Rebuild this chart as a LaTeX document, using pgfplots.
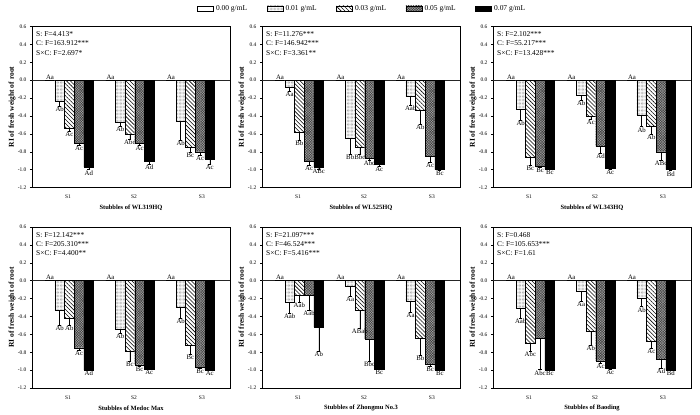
\documentclass[border=0pt]{standalone}
\usepackage{fontspec}
\setmainfont{Liberation Serif}
\usepackage{pgfplots}
\usepackage{pgfplotstable}
\pgfplotsset{compat=1.18}
\usetikzlibrary{patterns.meta}

% g = stubble group (S1,S2,S3); cK = RI value, eK = SE, lK = letters
\pgfplotstableread{
g c0 l0 c1 e1 l1 c2 e2 l2 c3 e3 l3 c4 e4 l4
1 0 Aa -0.24 0.05 Ab -0.54 0.03 Ac -0.70 0.03 Ac -0.97 0.03 Ad
2 0 Aa -0.47 0.04 Ab -0.60 0.055 Abc -0.70 0.03 Ac -0.91 0.03 Ad
3 0 Aa -0.46 0.21 Ab -0.75 0.055 Bc -0.80 0.04 Ac -0.88 0.06 Ac
}\tabA
\pgfplotstableread{
g c0 l0 c1 e1 l1 c2 e2 l2 c3 e3 l3 c4 e4 l4
1 0 Aa -0.075 0.045 Aa -0.58 0.09 Bb -0.91 0.04 Ac -0.97 0.02 ABc
2 0 Aa -0.65 0.175 Bb -0.75 0.075 Bbc -0.87 0.02 Abc -0.94 0.02 Ac
3 0 Aa -0.18 0.10 Aab -0.34 0.15 Ab -0.85 0.065 Ac -1.00 0.01 Bc
}\tabB
\pgfplotstableread{
g c0 l0 c1 e1 l1 c2 e2 l2 c3 e3 l3 c4 e4 l4
1 0 Aa -0.33 0.12 Ab -0.86 0.09 Bc -0.96 0.015 Bc -1.00 0.0 Bc
2 0 Aa -0.17 0.055 Ab -0.40 0.04 Ac -0.74 0.075 Ad -0.98 0.02 Ac
3 0 Aa -0.39 0.13 Ab -0.51 0.09 Ab -0.80 0.09 ABc -1.00 0.01 Bd
}\tabC
\pgfplotstableread{
g c0 l0 c1 e1 l1 c2 e2 l2 c3 e3 l3 c4 e4 l4
1 0 Aa -0.335 0.16 Ab -0.42 0.075 Ab -0.75 0.025 Ac -1.00 0.0 Ad
2 0 Aa -0.54 0.045 Ab -0.79 0.11 Bc -0.94 0.02 Bc -0.985 0.01 Ac
3 0 Aa -0.30 0.12 Ab -0.72 0.10 Bc -0.965 0.01 Bc -1.00 0.0 Ac
}\tabD
\pgfplotstableread{
g c0 l0 c1 e1 l1 c2 e2 l2 c3 e3 l3 c4 e4 l4
1 0 Aa -0.24 0.12 Aab -0.16 0.08 Aab -0.16 0.17 Aab -0.52 0.27 Ab
2 0 Aa -0.067 0.11 Aa -0.33 0.20 ABab -0.65 0.25 Bbc -0.985 0.01 Bc
3 0 Aa -0.23 0.12 Aa -0.64 0.19 Bb -0.93 0.025 Bc -1.00 0.0 Bc
}\tabE
\pgfplotstableread{
g c0 l0 c1 e1 l1 c2 e2 l2 c3 e3 l3 c4 e4 l4
1 0 Aa -0.31 0.11 Aab -0.70 0.09 Abc -0.645 0.35 Abc -1.00 0.0 Bc
2 0 Aa -0.115 0.12 Aa -0.56 0.16 Ab -0.895 0.025 Ac -0.975 0.02 Ac
3 0 Aa -0.20 0.09 Ab -0.68 0.075 Ac -0.875 0.10 Ad -1.00 0.0 Bd
}\tabF

\tikzset{
  s0/.style={fill=white, draw=black, line width=0.4pt},
  s1/.style={fill=white, draw=black, line width=0.4pt, postaction={pattern={Dots[distance=1.4bp, radius=0.32bp]}, pattern color=black!60}},
  s2/.style={fill=white, draw=black, line width=0.4pt, postaction={pattern={Lines[angle=-45, distance=2.8bp, line width=0.55bp]}, pattern color=black}},
  s3/.style={fill=black!35, draw=black, line width=0.4pt, postaction={pattern={Hatch[angle=45, distance=1.8bp, line width=0.45bp]}, pattern color=black!75}},
  s4/.style={fill=black, draw=black, line width=0.4pt},
  stats/.style={anchor=north west, align=left, inner sep=0pt, font=\fontsize{7.5}{9.3}\selectfont},
}

\pgfplotsset{
  mylegend/.style={legend image code/.code={\draw[##1] (0bp,-2.6bp) rectangle (16bp,2.6bp);}},
  lab/.style={nodes near coords, point meta=explicit symbolic, nodes near coords align=vertical,
    every node near coord/.append style={font=\fontsize{6.8}{7}\selectfont, inner sep=0.6bp, black}},
  errb/.style={/pgfplots/error bars/y dir=minus, /pgfplots/error bars/y explicit,
    /pgfplots/error bars/error bar style={line width=0.4pt, black},
    /pgfplots/error bars/error mark options={rotate=90, mark size=1.6bp, line width=0.4pt, black}},
  pb/.style={ybar, bar width=9.7bp, bar shift=0bp},
  p0/.style={pb, s0, mylegend, lab},
  p1/.style={pb, s1, mylegend, errb},
  p2/.style={pb, s2, mylegend, errb},
  p3/.style={pb, s3, mylegend, errb},
  p4/.style={pb, s4, mylegend, errb},
  q/.style={draw=none, mark=none, forget plot, nodes near coords, point meta=explicit symbolic,
    every node near coord/.append style={anchor=north, font=\fontsize{6.8}{7}\selectfont, inner sep=0.6bp, text=black}},
  panel/.style={
    width=198bp, height=161bp, scale only axis, anchor=north west,
    xmin=0.382, xmax=3.655, ymin=-1.2, ymax=0.6,
    ytick={-1.2,-1,-0.8,-0.6,-0.4,-0.2,0,0.2,0.4,0.6},
    yticklabel style={/pgf/number format/fixed, /pgf/number format/fixed zerofill, /pgf/number format/precision=1, /pgf/number format/assume math mode=true},
    xtick={0.977,2.068,3.19}, xticklabels={S1,S2,S3},
    x tick style={draw=none},
    ytick pos=left, tick align=outside, major tick length=2bp,
    tick label style={font=\fontsize{5.5}{6}\selectfont},
    xticklabel style={yshift=-2bp},
    axis line style={line width=0.5pt},
    every tick/.style={black, line width=0.4pt},
    xlabel style={font=\fontsize{6.5}{7}\selectfont\bfseries, at={(axis description cs:0.5,0)}, anchor=center, yshift=-20bp},
    ylabel={RI of fresh weight of root},
    ylabel style={font=\fontsize{7.5}{8}\selectfont\bfseries, at={(axis description cs:-0.101,0.5)}, anchor=center},
    clip=false,
  },
}

\begin{document}
\begin{tikzpicture}
\path (0,0) rectangle (700bp,-414bp);
% ---------- panel 1 ----------
\begin{axis}[panel, at={(32bp,-26.5bp)}, xlabel={Stubbles of WL319HQ},
  legend entries={0.00 g/mL,0.01 g/mL,0.03 g/mL,0.05 g/mL,0.07 g/mL},
  legend columns=5,
  legend style={draw=none, fill=none, inner sep=0pt, at={(0.833,1.112)}, anchor=west,
    font=\fontsize{7.5}{9}\selectfont,
    nodes={inner xsep=2.5bp, inner ysep=0pt},
    /tikz/every even column/.append style={column sep=17bp}}]
\draw[black!85, line width=0.5pt] (axis cs:0.382,0) -- (axis cs:3.655,0);
\addplot[p0] table[x expr=\thisrow{g}-0.3207, y=c0, meta=l0]{\tabA};
\addplot[p1] table[x expr=\thisrow{g}-0.1603, y=c1, y error=e1]{\tabA};
\addplot[p2] table[x expr=\thisrow{g}, y=c2, y error=e2]{\tabA};
\addplot[p3] table[x expr=\thisrow{g}+0.1603, y=c3, y error=e3]{\tabA};
\addplot[p4] table[x expr=\thisrow{g}+0.3207, y=c4, y error=e4]{\tabA};
\addplot[q] table[x expr=\thisrow{g}-0.1603, y expr=\thisrow{c1}-\thisrow{e1}, meta=l1]{\tabA};
\addplot[q] table[x expr=\thisrow{g}, y expr=\thisrow{c2}-\thisrow{e2}, meta=l2]{\tabA};
\addplot[q] table[x expr=\thisrow{g}+0.1603, y expr=\thisrow{c3}-\thisrow{e3}, meta=l3]{\tabA};
\addplot[q] table[x expr=\thisrow{g}+0.3207, y expr=\thisrow{c4}-\thisrow{e4}, meta=l4]{\tabA};
\node[stats] at (rel axis cs:0.02,0.969) {S: F=4.413*\\C: F=163.912***\\S×C: F=2.697*};
\end{axis}
% ---------- panel 2 ----------
\begin{axis}[panel, at={(262bp,-26.5bp)}, xlabel={Stubbles of WL525HQ}]
\draw[black!85, line width=0.5pt] (axis cs:0.382,0) -- (axis cs:3.655,0);
\addplot[p0] table[x expr=\thisrow{g}-0.3207, y=c0, meta=l0]{\tabB};
\addplot[p1] table[x expr=\thisrow{g}-0.1603, y=c1, y error=e1]{\tabB};
\addplot[p2] table[x expr=\thisrow{g}, y=c2, y error=e2]{\tabB};
\addplot[p3] table[x expr=\thisrow{g}+0.1603, y=c3, y error=e3]{\tabB};
\addplot[p4] table[x expr=\thisrow{g}+0.3207, y=c4, y error=e4]{\tabB};
\addplot[q] table[x expr=\thisrow{g}-0.1603, y expr=\thisrow{c1}-\thisrow{e1}, meta=l1]{\tabB};
\addplot[q] table[x expr=\thisrow{g}, y expr=\thisrow{c2}-\thisrow{e2}, meta=l2]{\tabB};
\addplot[q] table[x expr=\thisrow{g}+0.1603, y expr=\thisrow{c3}-\thisrow{e3}, meta=l3]{\tabB};
\addplot[q] table[x expr=\thisrow{g}+0.3207, y expr=\thisrow{c4}-\thisrow{e4}, meta=l4]{\tabB};
\node[stats] at (rel axis cs:0.02,0.969) {S: F=11.276***\\C: F=146.942***\\S×C: F=3.361**};
\end{axis}
% ---------- panel 3 ----------
\begin{axis}[panel, at={(493bp,-26.5bp)}, xlabel={Stubbles of WL343HQ}]
\draw[black!85, line width=0.5pt] (axis cs:0.382,0) -- (axis cs:3.655,0);
\addplot[p0] table[x expr=\thisrow{g}-0.3207, y=c0, meta=l0]{\tabC};
\addplot[p1] table[x expr=\thisrow{g}-0.1603, y=c1, y error=e1]{\tabC};
\addplot[p2] table[x expr=\thisrow{g}, y=c2, y error=e2]{\tabC};
\addplot[p3] table[x expr=\thisrow{g}+0.1603, y=c3, y error=e3]{\tabC};
\addplot[p4] table[x expr=\thisrow{g}+0.3207, y=c4, y error=e4]{\tabC};
\addplot[q] table[x expr=\thisrow{g}-0.1603, y expr=\thisrow{c1}-\thisrow{e1}, meta=l1]{\tabC};
\addplot[q] table[x expr=\thisrow{g}, y expr=\thisrow{c2}-\thisrow{e2}, meta=l2]{\tabC};
\addplot[q] table[x expr=\thisrow{g}+0.1603, y expr=\thisrow{c3}-\thisrow{e3}, meta=l3]{\tabC};
\addplot[q] table[x expr=\thisrow{g}+0.3207, y expr=\thisrow{c4}-\thisrow{e4}, meta=l4]{\tabC};
\node[stats] at (rel axis cs:0.02,0.969) {S: F=2.102***\\C: F=55.217***\\S×C: F=13.428***};
\end{axis}
% ---------- panel 4 ----------
\begin{axis}[panel, at={(32bp,-227bp)}, xlabel={Stubbles of Medoc Max}]
\draw[black!85, line width=0.5pt] (axis cs:0.382,0) -- (axis cs:3.655,0);
\addplot[p0] table[x expr=\thisrow{g}-0.3207, y=c0, meta=l0]{\tabD};
\addplot[p1] table[x expr=\thisrow{g}-0.1603, y=c1, y error=e1]{\tabD};
\addplot[p2] table[x expr=\thisrow{g}, y=c2, y error=e2]{\tabD};
\addplot[p3] table[x expr=\thisrow{g}+0.1603, y=c3, y error=e3]{\tabD};
\addplot[p4] table[x expr=\thisrow{g}+0.3207, y=c4, y error=e4]{\tabD};
\addplot[q] table[x expr=\thisrow{g}-0.1603, y expr=\thisrow{c1}-\thisrow{e1}, meta=l1]{\tabD};
\addplot[q] table[x expr=\thisrow{g}, y expr=\thisrow{c2}-\thisrow{e2}, meta=l2]{\tabD};
\addplot[q] table[x expr=\thisrow{g}+0.1603, y expr=\thisrow{c3}-\thisrow{e3}, meta=l3]{\tabD};
\addplot[q] table[x expr=\thisrow{g}+0.3207, y expr=\thisrow{c4}-\thisrow{e4}, meta=l4]{\tabD};
\node[stats] at (rel axis cs:0.02,0.969) {S: F=12.142***\\C: F=205.310***\\S×C: F=4.400**};
\end{axis}
% ---------- panel 5 ----------
\begin{axis}[panel, at={(262bp,-227bp)}, xlabel={Stubbles of Zhongmu No.3}]
\draw[black!85, line width=0.5pt] (axis cs:0.382,0) -- (axis cs:3.655,0);
\addplot[p0] table[x expr=\thisrow{g}-0.3207, y=c0, meta=l0]{\tabE};
\addplot[p1] table[x expr=\thisrow{g}-0.1603, y=c1, y error=e1]{\tabE};
\addplot[p2] table[x expr=\thisrow{g}, y=c2, y error=e2]{\tabE};
\addplot[p3] table[x expr=\thisrow{g}+0.1603, y=c3, y error=e3]{\tabE};
\addplot[p4] table[x expr=\thisrow{g}+0.3207, y=c4, y error=e4]{\tabE};
\addplot[q] table[x expr=\thisrow{g}-0.1603, y expr=\thisrow{c1}-\thisrow{e1}, meta=l1]{\tabE};
\addplot[q] table[x expr=\thisrow{g}, y expr=\thisrow{c2}-\thisrow{e2}, meta=l2]{\tabE};
\addplot[q] table[x expr=\thisrow{g}+0.1603, y expr=\thisrow{c3}-\thisrow{e3}, meta=l3]{\tabE};
\addplot[q] table[x expr=\thisrow{g}+0.3207, y expr=\thisrow{c4}-\thisrow{e4}, meta=l4]{\tabE};
\node[stats] at (rel axis cs:0.02,0.969) {S: F=21.097***\\C: F=46.524***\\S×C: F=5.416***};
\end{axis}
% ---------- panel 6 ----------
\begin{axis}[panel, at={(493bp,-227bp)}, xlabel={Stubbles of Baoding}]
\draw[black!85, line width=0.5pt] (axis cs:0.382,0) -- (axis cs:3.655,0);
\addplot[p0] table[x expr=\thisrow{g}-0.3207, y=c0, meta=l0]{\tabF};
\addplot[p1] table[x expr=\thisrow{g}-0.1603, y=c1, y error=e1]{\tabF};
\addplot[p2] table[x expr=\thisrow{g}, y=c2, y error=e2]{\tabF};
\addplot[p3] table[x expr=\thisrow{g}+0.1603, y=c3, y error=e3]{\tabF};
\addplot[p4] table[x expr=\thisrow{g}+0.3207, y=c4, y error=e4]{\tabF};
\addplot[q] table[x expr=\thisrow{g}-0.1603, y expr=\thisrow{c1}-\thisrow{e1}, meta=l1]{\tabF};
\addplot[q] table[x expr=\thisrow{g}, y expr=\thisrow{c2}-\thisrow{e2}, meta=l2]{\tabF};
\addplot[q] table[x expr=\thisrow{g}+0.1603, y expr=\thisrow{c3}-\thisrow{e3}, meta=l3]{\tabF};
\addplot[q] table[x expr=\thisrow{g}+0.3207, y expr=\thisrow{c4}-\thisrow{e4}, meta=l4]{\tabF};
\node[stats] at (rel axis cs:0.02,0.969) {S: F=0.468\\C: F=105.653***\\S×C: F=1.61};
\end{axis}
\end{tikzpicture}
\end{document}
